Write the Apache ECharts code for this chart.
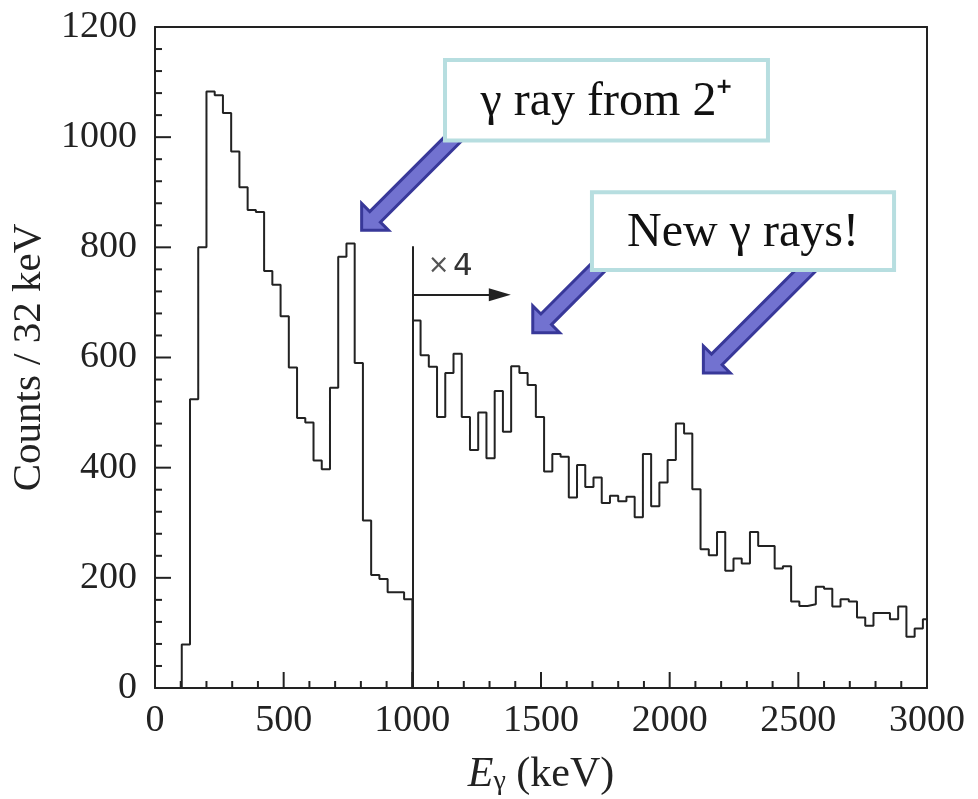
<!DOCTYPE html>
<html><head><meta charset="utf-8">
<script src="https://cdn.jsdelivr.net/npm/echarts@6/dist/echarts.min.js"></script>
<style>html,body{margin:0;padding:0;background:#fff}#c{width:978px;height:799px}</style>
</head><body><div id="c"></div>
<script>
// ---- data ----
const binWidth = 32;              // keV per bin
const lowStart = 104;             // left edge of first bin (keV), unscaled part
const lowCounts = [79, 524, 800, 1083, 1076, 1044, 974, 909, 868, 864, 757, 732, 675, 582,
  490, 482, 413, 397, 545, 783, 807, 590, 304, 205, 198, 174, 174, 161];
const highStart = 1000;           // left edge of first bin of the x4 part
const highCountsX4 = [667, 604, 583, 492, 572, 607, 492, 432, 500, 417, 539, 465, 584, 572,
  550, 492, 393, 425, 420, 346, 405, 365, 382, 336, 349, 339, 347, 310, 425, 330, 373, 414,
  480, 462, 361, 252, 241, 283, 213, 235, 226, 283, 258, 258, 217, 221, 157, 149, 152, 184,
  180, 148, 161, 157, 128, 113, 136, 136, 125, 148, 93, 108, 125];
const xTickLabels = [0, 500, 1000, 1500, 2000, 2500, 3000];
const yTickLabels = [0, 200, 400, 600, 800, 1000, 1200];
const minorPerMajor = 5;
const dividerX = 1000, dividerTop = 802;
const scaleArrow = [[1000, 714], [1340, 714]];
const notes = [
  {text: 'γ ray from 2⁺', box: [[1127, 1140], [2382, 994]], arrows: [{tip: [803, 831], len: 150}]},
  {text: 'New γ rays!', box: [[1698, 900], [2872, 759]], arrows: [{tip: [1468, 645], len: 110}, {tip: [2131, 572], len: 165}]}
];

function stepData(start, counts, fromZero, toZero) {
  const pts = [];
  if (fromZero) pts.push([start, 0]);
  counts.forEach((c, i) => pts.push([start + i * binWidth, c]));
  const end = start + counts.length * binWidth;
  pts.push([end, counts[counts.length - 1]]);
  if (toZero) pts.push([end, 0]);
  return pts;
}
// tick list: [axisFlag(0=x,1=y), value, isMajor]
function tickList(labels, flag) {
  const out = [];
  const step = (labels[1] - labels[0]) / minorPerMajor;
  for (let i = 0; i < labels.length; i++) {
    out.push([flag, labels[i], 1]);
    if (i < labels.length - 1) for (let k = 1; k < minorPerMajor; k++) out.push([flag, labels[i] + k * step, 0]);
  }
  return out;
}

const ink = '#222';
const serif = 'Liberation Serif';
const chart = echarts.init(document.getElementById('c'), null, {renderer: 'canvas'});

const xMin = xTickLabels[0], xMax = xTickLabels[xTickLabels.length - 1];
const yMin = yTickLabels[0], yMax = yTickLabels[yTickLabels.length - 1];
const xRange = {type: 'value', min: xMin, max: xMax, interval: xTickLabels[1] - xTickLabels[0]};
const yRange = {type: 'value', min: yMin, max: yMax, interval: yTickLabels[1] - yTickLabels[0]};

function mainAxis(labelMargin) {
  return {
    show: true,
    axisLine: {show: true, onZero: false, lineStyle: {color: ink, width: 2}},
    axisTick: {show: false},
    minorTick: {show: false},
    splitLine: {show: false},
    minorSplitLine: {show: false},
    axisLabel: {show: true, color: ink, fontFamily: serif, fontSize: 38, margin: labelMargin, formatter: (v) => String(v)}
  };
}
function frameAxis(pos) {
  return {
    show: true, position: pos,
    axisLine: {show: true, onZero: false, lineStyle: {color: ink, width: 2}},
    axisTick: {show: false}, minorTick: {show: false}, axisLabel: {show: false}, splitLine: {show: false}
  };
}

chart.setOption({
  animation: false,
  backgroundColor: '#fff',
  grid: {left: 155, right: 51, top: 27, bottom: 111, show: false, containLabel: false, outerBoundsMode: 'none'},
  xAxis: [
    Object.assign(mainAxis(14), xRange, {
      position: 'bottom',
      name: '{e|E}{g|γ}{n| (keV)}', nameLocation: 'middle', nameGap: 64,
      nameTextStyle: {rich: {
        e: {fontFamily: serif, fontSize: 42, fontStyle: 'italic', color: ink, verticalAlign: 'bottom', lineHeight: 44},
        g: {fontFamily: serif, fontSize: 28, color: ink, verticalAlign: 'bottom', lineHeight: 36},
        n: {fontFamily: serif, fontSize: 42, color: ink, verticalAlign: 'bottom', lineHeight: 44}
      }}
    }),
    Object.assign(frameAxis('top'), xRange)
  ],
  yAxis: [
    Object.assign(mainAxis(18), yRange, {
      position: 'left',
      name: 'Counts / 32 keV', nameLocation: 'middle', nameGap: 100,
      nameTextStyle: {fontFamily: serif, fontSize: 41, color: ink}
    }),
    Object.assign(frameAxis('right'), yRange)
  ],
  series: [
    {type: 'line', step: 'end', symbol: 'none', clip: true, z: 3,
     data: stepData(lowStart, lowCounts, true, true),
     lineStyle: {color: ink, width: 2}},
    {type: 'line', step: 'end', symbol: 'none', clip: true, z: 3,
     data: stepData(highStart, highCountsX4, false, false),
     lineStyle: {color: ink, width: 2},
     markLine: {
       silent: true, animation: false,
       label: {show: false},
       data: [
         [{coord: [dividerX, 0], symbol: 'none'}, {coord: [dividerX, dividerTop], symbol: 'none'}],
         [{coord: scaleArrow[0], symbol: 'none'}, {coord: scaleArrow[1], symbol: 'triangle', symbolSize: [13, 22]}]
       ],
       lineStyle: {color: ink, width: 2, type: 'solid'}
     }},
    {type: 'custom', name: 'ticks', clip: false, silent: true, z: 6,
     data: tickList(xTickLabels, 0).concat(tickList(yTickLabels, 1)),
     encode: {x: 1, y: 1},
     renderItem: function (params, api) {
       const flag = api.value(0), v = api.value(1), major = api.value(2);
       const len = major ? 16 : 7;
       if (flag === 0) {
         const p = api.coord([v, yMin]);
         return {type: 'line', shape: {x1: p[0], y1: p[1], x2: p[0], y2: p[1] - len}, style: {stroke: ink, lineWidth: 2}};
       }
       const p = api.coord([xMin, v]);
       return {type: 'line', shape: {x1: p[0], y1: p[1], x2: p[0] + len, y2: p[1]}, style: {stroke: ink, lineWidth: 2}};
     }}
  ]
});

// ---- annotations ----
const px = (d) => chart.convertToPixel({xAxisIndex: 0, yAxisIndex: 0}, d);
const graphics = [];
const s2 = Math.SQRT1_2;
function arrowPoints(tip, len) {
  const d = [-s2, s2];         // direction tail -> tip
  const n = [s2, s2];          // perpendicular
  const w = 7.5, hw = 19, hl = 19;
  const neck = [tip[0] - d[0] * hl, tip[1] - d[1] * hl];
  const tail = [tip[0] - d[0] * len, tip[1] - d[1] * len];
  const P = (b, k) => [b[0] + n[0] * k, b[1] + n[1] * k];
  return [P(tail, w), P(neck, w), P(neck, hw), tip, P(neck, -hw), P(neck, -w), P(tail, -w)];
}
notes.forEach(nt => {
  nt.arrows.forEach(a => {
    graphics.push({type: 'polygon', z: 10, shape: {points: arrowPoints(px(a.tip), a.len)},
      style: {fill: '#7272d0', stroke: '#383899', lineWidth: 3, lineJoin: 'miter'}});
  });
  const p0 = px(nt.box[0]), p1 = px(nt.box[1]);
  graphics.push({type: 'rect', z: 20, shape: {x: p0[0], y: p0[1], width: p1[0] - p0[0], height: p1[1] - p0[1]},
    style: {fill: '#fff', stroke: '#b7dee0', lineWidth: 4}});
  graphics.push({type: 'text', z: 21, x: (p0[0] + p1[0]) / 2, y: (p0[1] + p1[1]) / 2 + 2,
    style: {text: nt.text, fontFamily: serif, fontSize: 48, fill: '#111', align: 'center', verticalAlign: 'middle'}});
});
const tpos = px([1060, 765]);
graphics.push({type: 'text', z: 21, x: tpos[0], y: tpos[1],
  style: {text: '{a|×} {b|4}', align: 'left', verticalAlign: 'middle',
    rich: {a: {fontFamily: 'DejaVu Sans', fontSize: 26, fill: '#555'}, b: {fontFamily: 'DejaVu Sans', fontSize: 31, fill: '#333'}}}});
chart.setOption({graphic: {elements: graphics}});
</script>
</body></html>
